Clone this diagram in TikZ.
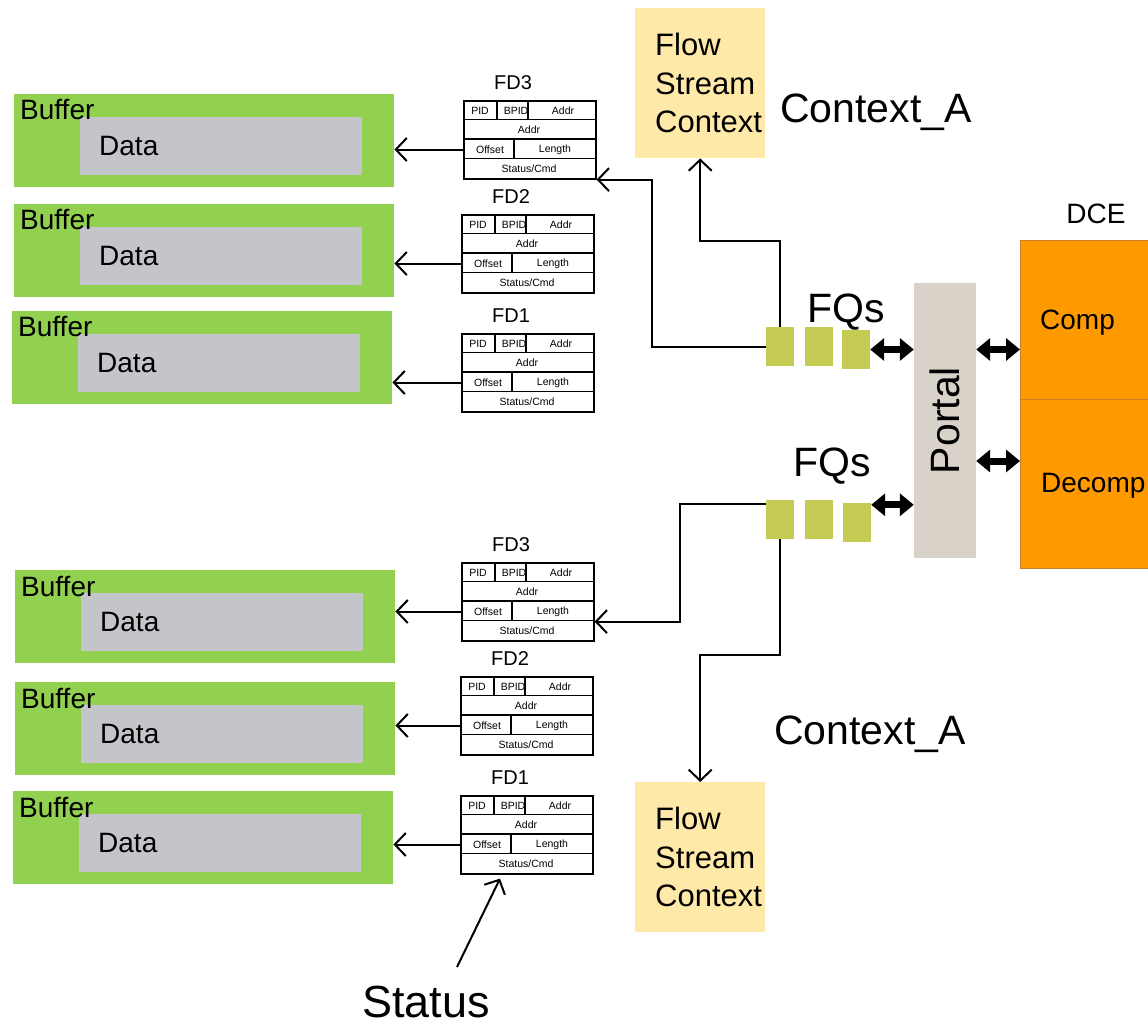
\documentclass[tikz,border=0pt]{standalone}
\usepackage{fontspec}
\setmainfont{Liberation Sans}
\usetikzlibrary{positioning,arrows.meta,calc}
\definecolor{bufgreen}{HTML}{92D050}
\definecolor{datagray}{HTML}{C3C5C9}
\definecolor{fscyellow}{HTML}{FFE9A8}
\definecolor{fqolive}{HTML}{C4CA52}
\definecolor{portalgray}{HTML}{D9D2C9}
\definecolor{dceorange}{HTML}{FF9900}
\definecolor{dceedge}{HTML}{C97E2E}

\begin{document}
\begin{tikzpicture}[
  x=1pt, y=-1pt,
  buf/.style={rectangle, fill=bufgreen, minimum width=380pt, minimum height=93pt, inner sep=0pt, anchor=north west},
  data/.style={rectangle, fill=datagray, minimum width=282pt, minimum height=58pt, inner sep=0pt, anchor=north west},
  txt/.style={inner sep=0pt, font=\fontsize{28}{33}\selectfont},
  big/.style={inner sep=0pt, font=\fontsize{41}{48}\selectfont},
  fd/.style={rectangle, draw=black, line width=1.6pt, minimum width=132pt, minimum height=78pt, inner sep=0pt, anchor=north west},
  fdln/.style={line width=1.2pt},
  fdtx/.style={inner sep=0pt, font=\fontsize{10.5}{12}\selectfont},
  fdname/.style={inner sep=0pt, font=\fontsize{20}{24}\selectfont},
  fsc/.style={rectangle, fill=fscyellow, minimum width=130pt, minimum height=150pt, inner sep=0pt, anchor=north west},
  fq/.style={rectangle, fill=fqolive, minimum width=28pt, minimum height=39pt, inner sep=0pt},
  dcebox/.style={rectangle, fill=dceorange, draw=dceedge, line width=1pt, minimum width=150pt, inner sep=0pt, anchor=north west},
  ptr/.style={-{Straight Barb[length=11pt,width=23pt]}, line width=2pt},
  dbl/.style={{Triangle[length=14pt,width=22pt]}-{Triangle[length=14pt,width=22pt]}, line width=7pt}
]
\useasboundingbox (0,0) rectangle (1148,1028);

% buffers with their data
\foreach \n/\x/\y in {bA1/14/94, bA2/14/204, bA3/12/311, bB3/15/570, bB2/15/682, bB1/13/791}{
  \node[buf] (\n) at (\x,\y) {};
  \node[data] (\n-d) at ([shift={(66,23)}]\n.north west) {};
  \node[txt, anchor=west] (\n-dt) at ([xshift=19pt]\n-d.west) {Data};
  \node[txt, anchor=west] (\n-bt) at ([shift={(6,16)}]\n.north west) {Buffer};
}

% frame descriptors
\foreach \n/\x/\y/\t/\b in {fA3/463/100/FD3/bA1, fA2/461/214/FD2/bA2, fA1/461/333/FD1/bA3,
                            fB3/461/562/FD3/bB3, fB2/460/676/FD2/bB2, fB1/460/795/FD1/bB1}{
  \node[fd] (\n) at (\x,\y) {};
  \node[fdname] (\n-t) at ([shift={(50,-17)}]\n.north west) {\t};
  \begin{scope}[shift={(\n.north west)}]
    \draw[fdln] (0,19.5) -- (132,19.5) (0,39) -- (132,39) (0,58.5) -- (132,58.5)
                (34,0) -- (34,19.5) (65,0) -- (65,19.5) (51,39) -- (51,58.5);
    \node[fdtx] (\n-pid) at (17,10.5) {PID};
    \node[fdtx] (\n-bpid) at (53,10.5) {BPID};
    \node[fdtx] (\n-a1) at (100,10.5) {Addr};
    \node[fdtx] (\n-a2) at (66,30) {Addr};
    \node[fdtx] (\n-off) at (27,49.5) {Offset};
    \node[fdtx] (\n-len) at (92,49.5) {Length};
    \node[fdtx] (\n-st) at (66,69) {Status/Cmd};
  \end{scope}
  \draw[ptr] (\n.west |- \n-off) -- (\b.east |- \n-off);
}

% flow stream contexts
\node[fsc] (fscA) at (635,8) {};
\node[txt, anchor=west, align=left, font=\fontsize{31}{38.5}\selectfont] (fscA-t) at ([xshift=20pt]fscA.west) {Flow\\Stream\\Context};
\node[fsc] (fscB) at (635,782) {};
\node[txt, anchor=west, align=left, font=\fontsize{31}{38.5}\selectfont] (fscB-t) at ([xshift=20pt]fscB.west) {Flow\\Stream\\Context};
\node[big] (ctxA) at (876,112) {Context\_A};
\node[big] (ctxB) at (870,734) {Context\_A};

% frame queues
\node[big] (fqsA) at (846,312) {FQs};
\node[fq] (fqA1) at (780,346.5) {};
\node[fq] (fqA2) at (819,346.5) {};
\node[fq] (fqA3) at (856,349.5) {};
\node[big] (fqsB) at (832,466) {FQs};
\node[fq] (fqB1) at (780,519.5) {};
\node[fq] (fqB2) at (819,519.5) {};
\node[fq] (fqB3) at (857,522.5) {};

% portal and DCE
\node[rectangle, fill=portalgray, minimum width=62pt, minimum height=275pt, inner sep=0pt] (portal) at (945,420.5) {};
\node[big, rotate=90] (portal-t) at (portal.center) {Portal};
\node[txt] (dce) at (1096,214) {DCE};
\node[dcebox, minimum height=159pt] (comp) at (1020,240) {};
\node[dcebox, minimum height=169pt] (decomp) at (1020,399) {};
\node[txt, anchor=west] (comp-t) at (1040,323) {Comp};
\node[txt, anchor=west] (decomp-t) at (1041,486) {Decomp};

\node[txt, font=\fontsize{45}{53}\selectfont] (status) at (426,1002) {Status};
\coordinate (st-tail) at (457,967);
\coordinate (qB) at ([yshift=-2pt]fqB3.north east);
\coordinate (dB) at ([yshift=-62pt]decomp.north west);

% connectors
\draw[ptr] (fqA1.north) -- ++(0,-86) -| (fscA.south);
\draw[ptr] (fqA1.west) -- ++(-114,0) |- (fA3.south east);
\draw[ptr] ([yshift=-4pt]fqB1.north west) -- ++(-86,0) |- ([yshift=20pt]fB3.south east);
\draw[ptr] (fqB1.south) -- ++(0,116) -| (fscB.north);
\draw[ptr] (st-tail) -- ([shift={(40,4)}]fB1.south west);

\draw[dbl] (fqA3.east) -- (portal.west |- fqA3.east);
\draw[dbl] (portal.east |- fqA3.east) -- (comp.west |- fqA3.east);
\draw[dbl] (qB) -- (portal.west |- qB);
\draw[dbl] (portal.east |- dB) -- (dB);
\end{tikzpicture}
\end{document}
